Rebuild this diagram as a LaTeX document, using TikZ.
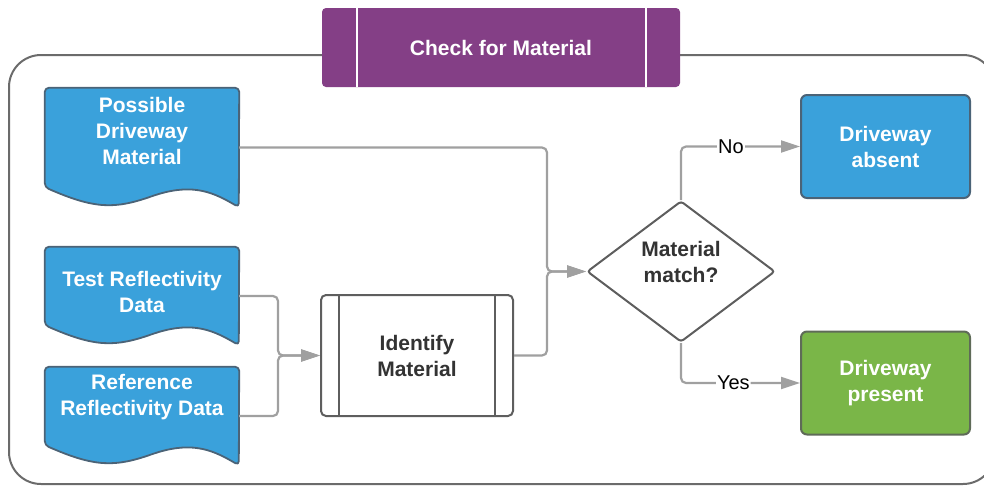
\documentclass[tikz,border=0pt]{standalone}
\usepackage{fontspec}
\setmainfont{Liberation Sans}
\usetikzlibrary{arrows.meta,shapes.geometric,calc}

\definecolor{lucidblue}{HTML}{3AA1DB}
\definecolor{bluestroke}{HTML}{4B6377}
\definecolor{lucidgreen}{HTML}{7AB648}
\definecolor{greenstroke}{HTML}{5F6B58}
\definecolor{lucidpurple}{HTML}{843F86}
\definecolor{framegray}{HTML}{6B6B6B}
\definecolor{boxgray}{HTML}{5E5E5E}
\definecolor{linegray}{HTML}{A0A0A0}
\definecolor{textdark}{HTML}{333333}

% document symbol: straight top and sides, wavy bottom edge
\newcommand{\docoutline}[1]{%
  \path[docshape] (#1.north west) -- ($(#1.south west)+(0,-20)$)
    .. controls +(50,22) and +(-40,14) .. ++(110,8)
    .. controls +(40,-12) and +(-24,-14) .. ++(84,12)
    -- (#1.north east) -- cycle;}

\begin{document}
\begin{tikzpicture}[x=1pt,y=-1pt,
  every node/.style={font=\fontsize{21}{26}\selectfont\bfseries, align=center, inner sep=0pt},
  frame/.style={draw=framegray, line width=2pt, rounded corners=32pt},
  titlebox/.style={fill=lucidpurple, text=white, rounded corners=4pt,
    minimum width=358pt, minimum height=79pt},
  docnode/.style={minimum width=194pt},
  docshape/.style={fill=lucidblue, draw=bluestroke, line width=1.8pt,
    line join=round, rounded corners=4pt},
  doctext/.style={text=white},
  procbox/.style={draw=boxgray, fill=white, text=textdark, line width=2pt,
    rounded corners=5pt, minimum width=192pt, minimum height=121pt},
  decision/.style={diamond, draw=boxgray, fill=white, line width=2pt,
    minimum width=188pt, minimum height=141pt, aspect=1.333, rounded corners=3pt},
  outcome/.style={text=white, line width=2pt, rounded corners=6pt,
    minimum width=169pt, minimum height=103pt},
  flow/.style={draw=linegray, line width=2.2pt, rounded corners=5pt,
    -{Triangle[length=19pt,width=12pt,fill=linegray]}},
  branch/.style={font=\fontsize{20}{24}\selectfont, text=black,
    fill=white, inner sep=1pt}
]
\useasboundingbox (0,0) rectangle (984,485);
\clip (0,0) rectangle (984,485);

% surrounding frame
\draw[frame] (9,55) rectangle (995,484);

% title tab
\node[titlebox] (title) at (501,47.5) {Check for Material};
\draw[white, line width=2.5pt] ([xshift=35pt]title.north west) -- ([xshift=35pt]title.south west);
\draw[white, line width=2.5pt] ([xshift=-34pt]title.north east) -- ([xshift=-34pt]title.south east);

% data inputs
\node[docnode, minimum height=119pt] (pdm) at (142,147.5) {};
\node[docnode, minimum height=98pt] (test) at (142,296) {};
\node[docnode, minimum height=98pt] (ref) at (142,416) {};
\docoutline{pdm}
\docoutline{test}
\docoutline{ref}
\node[doctext] (pdmtext) at (142,131) {Possible\\Driveway\\Material};
\node[doctext] (testtext) at (142,292) {Test Reflectivity\\Data};
\node[doctext] (reftext) at (142,397) {Reference\\Reflectivity Data};

% process
\node[procbox] (idm) at (417,355.5) {Identify\\Material};
\draw[boxgray, line width=1.5pt] ([xshift=19pt]idm.north west) -- ([xshift=19pt]idm.south west);
\draw[boxgray, line width=1.5pt] ([xshift=-19pt]idm.north east) -- ([xshift=-19pt]idm.south east);

% decision
\node[decision] (mm) at (681,271.5) {};
\node[text=textdark] (mmtext) at (681,262) {Material\\match?};

% outcomes
\node[outcome, fill=lucidblue, draw=bluestroke] (abs) at (885.5,146.5) {Driveway\\absent};
\node[outcome, fill=lucidgreen, draw=greenstroke] (pres) at (885.5,383) {Driveway\\present};

% junction points
\path (idm.west) ++(-42,0) coordinate (jl);
\path (mm.west) ++(-39,0) coordinate (jr);

% connectors
\draw[flow] (test.east) -| (jl) -- (idm.west);
\draw[flow] (ref.east) -| (jl) -- (idm.west);
\draw[flow] (pdm.east) -| (jr) -- (mm.west);
\draw[flow] (idm.east) -| (jr) -- (mm.west);
\draw[flow] (mm.north) |- node[branch, pos=0.71] {No} (abs.west);
\draw[flow] (mm.south) |- node[branch, pos=0.72] {Yes} (pres.west);
\end{tikzpicture}
\end{document}
